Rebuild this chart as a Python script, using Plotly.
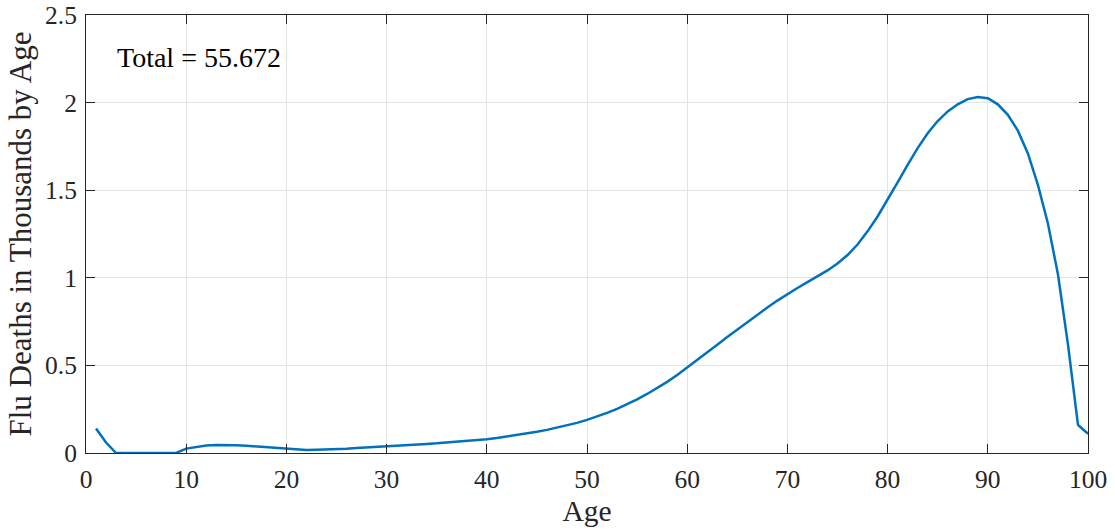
import plotly.graph_objects as go

ages = list(range(1, 101))
deaths = [
    0.14, 0.06, 0.0, 0.0, 0.0, 0.0, 0.0, 0.0, 0.0, 0.025,   # 1-10
    0.036, 0.043, 0.046, 0.046, 0.044, 0.041, 0.037, 0.032, 0.027, 0.022,  # 11-20
    0.018, 0.017, 0.018, 0.019, 0.021, 0.024, 0.028, 0.032, 0.036, 0.040,  # 21-30
    0.043, 0.046, 0.049, 0.052, 0.055, 0.059, 0.063, 0.068, 0.073, 0.079,  # 31-40
    0.086, 0.094, 0.102, 0.111, 0.121, 0.132, 0.144, 0.157, 0.172, 0.189,  # 41-50
    0.208, 0.229, 0.252, 0.278, 0.306, 0.337, 0.370, 0.406, 0.445, 0.487,  # 51-60
    0.530, 0.574, 0.618, 0.662, 0.705, 0.747, 0.789, 0.830, 0.870, 0.907,  # 61-70
    0.942, 0.975, 1.007, 1.042, 1.082, 1.130, 1.190, 1.265, 1.350, 1.445,  # 71-80
    1.545, 1.645, 1.740, 1.825, 1.895, 1.950, 1.990, 2.020, 2.032, 2.025,  # 81-90
    1.990, 1.930, 1.840, 1.710, 1.530, 1.310, 1.020, 0.620, 0.160, 0.110,  # 91-100
]
total_label = "Total = 55.672"

font_family = "Liberation Serif, Times New Roman, serif"
axis_color = "#262626"
grid_color = "#e3e3e3"

fig = go.Figure()
fig.add_trace(go.Scatter(
    x=ages, y=deaths, mode="lines",
    line=dict(color="#0072BD", width=2.5),
    showlegend=False, hoverinfo="skip",
))

fig.add_annotation(
    x=2.9, y=2.26, xref="x", yref="y", text=total_label,
    showarrow=False, xanchor="left", yanchor="middle",
    font=dict(family=font_family, size=28, color="#000000"),
)

common = dict(
    showline=True, linecolor=axis_color, linewidth=1,
    mirror="allticks", ticks="inside", ticklen=9, tickcolor=axis_color,
    showgrid=True, gridcolor=grid_color, gridwidth=1,
    zeroline=False, automargin=False,
    tickfont=dict(family=font_family, size=25.5, color=axis_color),
)

fig.update_xaxes(
    range=[0, 100], tickmode="array", tickvals=list(range(0, 101, 10)),
    ticklabelstandoff=3,
    title=dict(text="Age", font=dict(family=font_family, size=29.5, color=axis_color), standoff=7),
    **common,
)
fig.update_yaxes(
    range=[0, 2.5], tickmode="array", tickvals=[0, 0.5, 1, 1.5, 2, 2.5],
    ticktext=["0", "0.5", "1", "1.5", "2", "2.5"],
    ticklabelstandoff=3,
    title=dict(text="Flu Deaths in Thousands by Age", font=dict(family=font_family, size=31, color=axis_color), standoff=4),
    **common,
)

fig.update_layout(
    width=1115, height=531,
    margin=dict(l=86, r=27, t=15, b=78),
    plot_bgcolor="white", paper_bgcolor="white",
)

fig.write_html("out.html", config={"displayModeBar": False},
               post_script="document.body.style.margin='0';")
